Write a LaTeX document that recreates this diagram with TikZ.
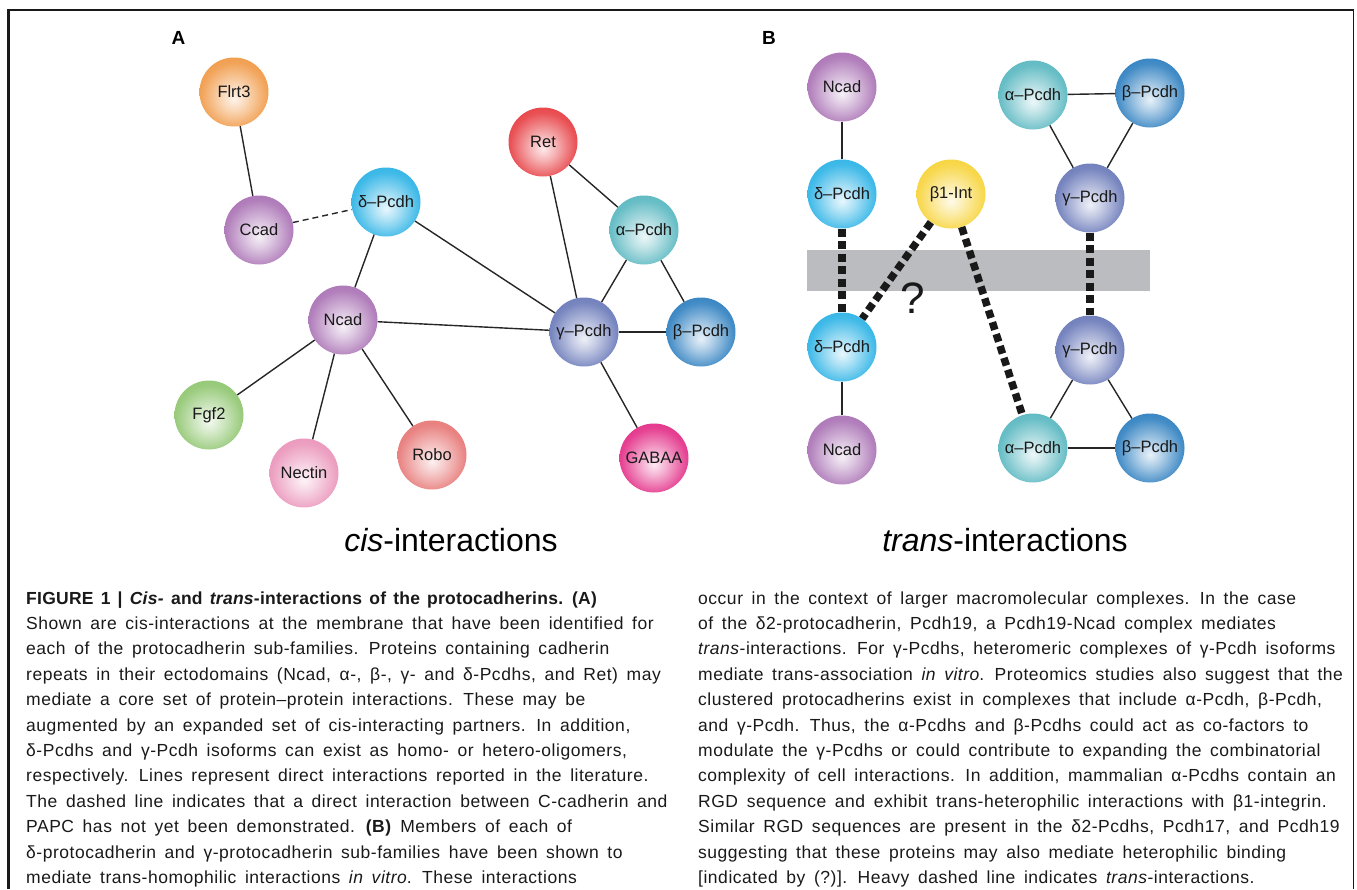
\documentclass[tikz,border=0pt]{standalone}
\usepackage{fontspec}
\setmainfont{Liberation Sans}
\newfontfamily\capfont[LetterSpace=3,WordSpace=1.6]{Liberation Sans}
\newfontfamily\titfont[LetterSpace=1.5,WordSpace=1.4]{Liberation Sans}
\colorlet{protc}{gray}
\pgfdeclareradialshading[protc]{protball}{\pgfqpoint{0bp}{-5bp}}{color(0bp)=(protc!10!white); color(9bp)=(protc!35!white); color(24bp)=(protc!82!white); color(40bp)=(protc); color(50bp)=(protc!90!black)}
\definecolor{cflrt}{HTML}{EF8F34}
\definecolor{ccad}{HTML}{A164AD}
\definecolor{cdpc}{HTML}{17ABE3}
\definecolor{cret}{HTML}{E42B30}
\definecolor{capc}{HTML}{48B0BA}
\definecolor{cgpc}{HTML}{5B6CB2}
\definecolor{cbpc}{HTML}{1A73BA}
\definecolor{cfgf}{HTML}{84C061}
\definecolor{cnec}{HTML}{E88AB3}
\definecolor{crobo}{HTML}{E46A69}
\definecolor{cgaba}{HTML}{E0197B}
\definecolor{cbint}{HTML}{F6CF25}
\definecolor{cmemb}{HTML}{BBBCBF}
\begin{document}
\begin{tikzpicture}[x=1pt,y=-1pt,
  prot/.style={circle, minimum size=69pt, inner sep=0pt, font=\fontsize{16.5}{18}\selectfont, text=black!90, shading=protball},
  pc/.code={\colorlet{protc}{#1}},
  link/.style={line width=1.4pt, black!85},
  clink/.style={link, dash pattern=on 6pt off 4pt},
  heavy/.style={line width=7.5pt, black!90, dash pattern=on 8pt off 4.5pt},
  panel/.style={font=\bfseries\fontsize{19}{20}\selectfont},
  bigcap/.style={font=\fontsize{32}{36}\selectfont, anchor=base},
  captext/.style={font=\capfont\fontsize{17.5}{25.4}\selectfont, align=left, anchor=base west, inner sep=0pt, text=black!90},
  frameline/.style={black!90}
]
\useasboundingbox (0,0) rectangle (1357,889);
% frame
\draw[frameline, line width=1.8pt] (7,10) -- (1354,10);
\draw[frameline, line width=2.7pt] (8.7,9) -- (8.7,889);
\draw[frameline, line width=1.3pt] (1353.5,9) -- (1353.5,889);

% panel labels
\node[panel] (labA) at (178.5,38) {A};
\node[panel] (labB) at (769,38) {B};

% ---------- Panel A ----------
\node[prot, pc=cflrt] (fl) at (234,92) {Flrt3};
\node[prot, pc=ccad] (cc) at (259,230) {Ccad};
\node[prot, pc=cdpc] (da) at (386,202) {δ–Pcdh};
\node[prot, pc=cret] (re) at (543,142) {Ret};
\node[prot, pc=capc] (aa) at (644,230) {α–Pcdh};
\node[prot, pc=ccad] (na) at (343,320) {Ncad};
\node[prot, pc=cgpc] (ga) at (584,332) {γ–Pcdh};
\node[prot, pc=cbpc] (ba) at (701,332) {β–Pcdh};
\node[prot, pc=cfgf] (fg) at (209,415) {Fgf2};
\node[prot, pc=cnec] (ne) at (304,473) {Nectin};
\node[prot, pc=crobo] (ro) at (432,455) {Robo};
\node[prot, pc=cgaba] (gb) at (654,458) {GABAA};

\draw[link] (fl) -- (cc);
\draw[clink] (cc) -- (da);
\draw[link] (da) -- (na);
\draw[link] (da) -- (ga);
\draw[link] (re) -- (ga);
\draw[link] (re) -- (aa);
\draw[link] (aa) -- (ga);
\draw[link] (aa) -- (ba);
\draw[link] (ga) -- (ba);
\draw[link] (na) -- (ga);
\draw[link] (ga) -- (gb);
\draw[link] (na) -- (fg);
\draw[link] (na) -- (ne);
\draw[link] (na) -- (ro);

\node[bigcap] (cisl) at (451,551) {\textit{cis}-interactions};

% ---------- Panel B ----------
\fill[cmemb] (807,250) rectangle (1150,291);

\node[prot, pc=ccad] (nt) at (842,87) {Ncad};
\node[prot, pc=cdpc] (dt) at (842,194) {δ–Pcdh};
\node[prot, pc=cbint] (bi) at (951,194) {β1-Int};
\node[prot, pc=capc] (at) at (1033,95) {α–Pcdh};
\node[prot, pc=cbpc] (bt) at (1150,93) {β–Pcdh};
\node[prot, pc=cgpc] (gt) at (1090,198) {γ–Pcdh};
\node[prot, pc=cdpc] (db) at (842,347) {δ–Pcdh};
\node[prot, pc=ccad] (nb) at (842,450) {Ncad};
\node[prot, pc=cgpc] (gbt) at (1090,350) {γ–Pcdh};
\node[prot, pc=capc] (ab) at (1033,448) {α–Pcdh};
\node[prot, pc=cbpc] (bb) at (1150,448) {β–Pcdh};

\draw[link] (nt) -- (dt);
\draw[link] (db) -- (nb);
\draw[link] (at) -- (bt);
\draw[link] (at) -- (gt);
\draw[link] (bt) -- (gt);
\draw[link] (gbt) -- (ab);
\draw[link] (gbt) -- (bb);
\draw[link] (ab) -- (bb);

\draw[heavy] (dt) -- (db);
\draw[heavy] (bi) -- (db);
\draw[heavy] (bi) -- (ab);
\draw[heavy] (gt) -- (gbt);

\node[font=\fontsize{44}{48}\selectfont, text=black!90] (qm) at (913,298) {?};

\node[bigcap] (transl) at (1005,551) {\textit{trans}-interactions};

% ---------- Caption ----------
\node[captext] (capL) at (26,883.5) {{\titfont\bfseries FIGURE 1 | \textit{Cis-} and \textit{trans}-interactions of the protocadherins. (A)}\\
Shown are cis-interactions at the membrane that have been identified for\\
each of the protocadherin sub-families. Proteins containing cadherin\\
repeats in their ectodomains (Ncad, α-, β-, γ- and δ-Pcdhs, and Ret) may\\
mediate a core set of protein–protein interactions. These may be\\
augmented by an expanded set of cis-interacting partners. In addition,\\
δ-Pcdhs and γ-Pcdh isoforms can exist as homo- or hetero-oligomers,\\
respectively. Lines represent direct interactions reported in the literature.\\
The dashed line indicates that a direct interaction between C-cadherin and\\
PAPC has not yet been demonstrated. \textbf{(B)} Members of each of\\
δ-protocadherin and γ-protocadherin sub-families have been shown to\\
mediate trans-homophilic interactions \textit{in vitro}. These interactions};

\node[captext] (capR) at (698,883.5) {occur in the context of larger macromolecular complexes. In the case\\
of the δ2-protocadherin, Pcdh19, a Pcdh19-Ncad complex mediates\\
\textit{trans}-interactions. For γ-Pcdhs, heteromeric complexes of γ-Pcdh isoforms\\
mediate trans-association \textit{in vitro}. Proteomics studies also suggest that the\\
clustered protocadherins exist in complexes that include α-Pcdh, β-Pcdh,\\
and γ-Pcdh. Thus, the α-Pcdhs and β-Pcdhs could act as co-factors to\\
modulate the γ-Pcdhs or could contribute to expanding the combinatorial\\
complexity of cell interactions. In addition, mammalian α-Pcdhs contain an\\
RGD sequence and exhibit trans-heterophilic interactions with β1-integrin.\\
Similar RGD sequences are present in the δ2-Pcdhs, Pcdh17, and Pcdh19\\
suggesting that these proteins may also mediate heterophilic binding\\
{[}indicated by (?){]}. Heavy dashed line indicates \textit{trans}-interactions.};
\end{tikzpicture}
\end{document}
